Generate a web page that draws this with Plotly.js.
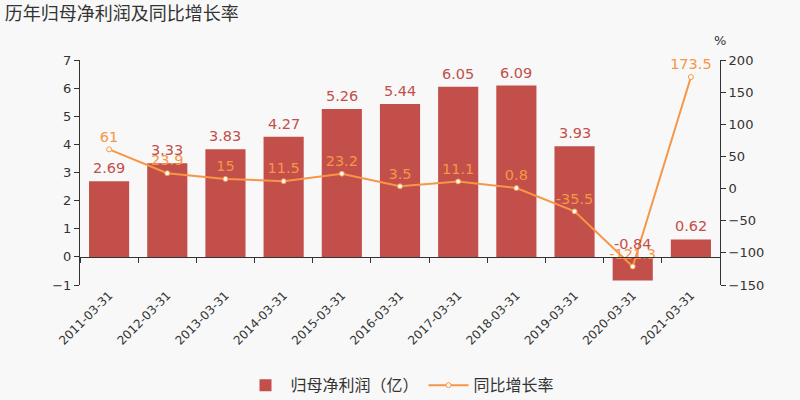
<!DOCTYPE html>
<html><head><meta charset="utf-8">
<script src="https://cdn.plot.ly/plotly-3.0.1.min.js"></script>
<style>body{margin:0;background:#f8f8f8}#c{width:800px;height:400px}</style>
</head><body><div id="c"></div><script>
const categories = ['2011-03-31','2012-03-31','2013-03-31','2014-03-31','2015-03-31','2016-03-31','2017-03-31','2018-03-31','2019-03-31','2020-03-31','2021-03-31'];
const profit = [2.69,3.33,3.83,4.27,5.26,5.44,6.05,6.09,3.93,-0.84,0.62];
const growth = [61,23.9,15,11.5,23.2,3.5,11.1,0.8,-35.5,-121.3,173.5];
const barName = '归母净利润（亿）';
const lineName = '同比增长率';
const titleText = '历年归母净利润及同比增长率';

const barColor = 'rgb(194,79,74)';
const lineColor = 'rgb(247,150,70)';
const font = 'DejaVu Sans, Noto Sans CJK SC, sans-serif';
const yRange = [-1,7];
const y2Range = [-150,200];
const xRange = [-0.5, categories.length - 0.5];

const traces = [
  {type:'bar', x:categories, y:profit, name:barName, marker:{color:barColor}, xaxis:'x', yaxis:'y', hoverinfo:'none'},
  {type:'scatter', mode:'lines+markers+text', x:categories, y:growth, name:lineName, text:growth.map(String),
   textposition:'top center', textfont:{color:lineColor, size:14.5, family:font},
   line:{color:lineColor, width:2}, marker:{symbol:'circle', size:5, color:'#fff', line:{color:lineColor, width:1}},
   xaxis:'x2', yaxis:'y2', cliponaxis:false, hoverinfo:'none'}
];

const barLabels = categories.map((c,i)=>({
  text:String(profit[i]), x:c, y:Math.max(profit[i],0), xref:'x', yref:'y',
  xanchor:'center', yanchor:'bottom', yshift:3, showarrow:false,
  font:{size:14.5, color:barColor, family:font}
}));

const axisLine = '#333';
const layout = {
  width:800, height:400,
  paper_bgcolor:'#f8f8f8', plot_bgcolor:'#f8f8f8',
  margin:{l:80, r:80, t:60, b:115, autoexpand:false},
  font:{family:font, color:'#333', size:13},
  title:{text:titleText, x:0.006, xanchor:'left', y:0.965, yanchor:'middle', font:{size:18, color:'#333', family:'Noto Sans CJK SC, sans-serif'}},
  bargap:0.31,
  showlegend:true,
  legend:{orientation:'h', x:0.5, xanchor:'center', y:-0.37, yanchor:'top', font:{size:16, family:'Noto Sans CJK SC, sans-serif', color:'#333'}, itemwidth:40},
  xaxis:{type:'category', categoryorder:'array', categoryarray:categories, range:xRange, showline:false, ticks:'', tickangle:-45, automargin:false,
         tickfont:{size:12, color:'#333'}, showgrid:false, zeroline:false},
  xaxis2:{type:'category', categoryorder:'array', categoryarray:categories, range:xRange, overlaying:'x', anchor:'free', automargin:false,
          position:(0-yRange[0])/(yRange[1]-yRange[0]), showline:true, linecolor:axisLine, linewidth:1,
          ticks:'outside', tickson:'boundaries', ticklen:5, tickcolor:axisLine, showticklabels:false, showgrid:false, zeroline:false},
  yaxis:{range:yRange, dtick:1, showline:true, linecolor:axisLine, ticks:'outside', ticklen:5, tickcolor:axisLine, automargin:false,
         showgrid:false, zeroline:false, tickfont:{size:13, color:'#333'}},
  yaxis2:{range:y2Range, dtick:50, overlaying:'y', side:'right', showline:true, linecolor:axisLine, ticks:'outside', ticklen:5, automargin:false,
          tickcolor:axisLine, showgrid:false, zeroline:false, tickfont:{size:13, color:'#333'}},
  annotations:[{text:'%', xref:'paper', yref:'paper', x:1.0, y:1.0, xanchor:'center', yanchor:'bottom', yshift:10, showarrow:false, font:{size:13, color:'#333'}}].concat(barLabels)
};
Plotly.newPlot('c', traces, layout, {staticPlot:true});
</script></body></html>
